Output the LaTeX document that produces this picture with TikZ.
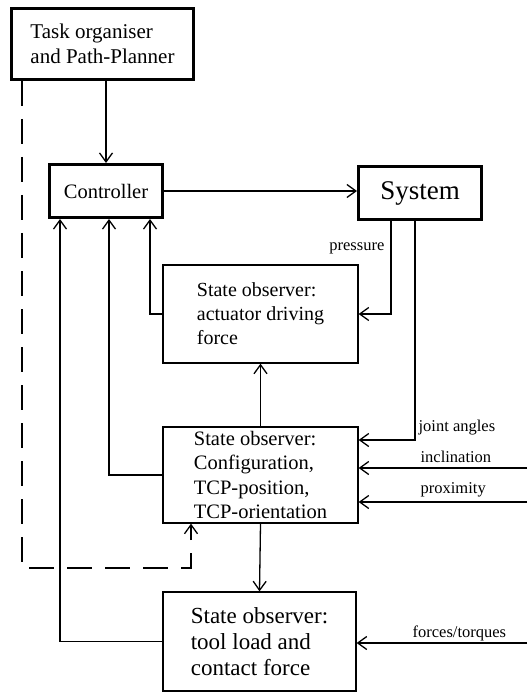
\documentclass[tikz,border=0pt]{standalone}
\usepackage{fontspec}
\setmainfont{Liberation Serif}
\usetikzlibrary{arrows.meta}
\begin{document}
\begin{tikzpicture}[x=1pt,y=-1pt,
  line width=1.3pt,
  arr/.style={-{Straight Barb[length=9pt,width=13pt]}},
  thickbox/.style={draw,line width=3pt,inner sep=0pt,align=left},
  thinbox/.style={draw,line width=1.3pt,inner sep=0pt,align=left},
  lbl/.style={inner sep=1pt,font=\fontsize{16.5}{18}\selectfont},
  dashline/.style={dash pattern=on 25pt off 13pt}]
\useasboundingbox (0,0) rectangle (527,692);
\node[thickbox,minimum width=182pt,minimum height=71pt,font=\fontsize{21}{25}\selectfont] (task) at (102.5,44) {Task organiser\\and Path-Planner};
\node[thickbox,minimum width=113pt,minimum height=53pt,font=\fontsize{20.5}{24}\selectfont] (ctrl) at (106,191) {Controller};
\node[thickbox,minimum width=123pt,minimum height=53pt,font=\fontsize{27}{30}\selectfont] (sys) at (420,193) {System};
\node[thinbox,minimum width=195pt,minimum height=98pt,font=\fontsize{20}{24}\selectfont] (act) at (260.5,314) {State observer:\\actuator driving\\force};
\node[thinbox,minimum width=195pt,minimum height=96pt,font=\fontsize{20.5}{24.3}\selectfont] (tcp) at (260.5,475) {State observer:\\Configuration,\\TCP-position,\\TCP-orientation};
\node[thinbox,minimum width=193pt,minimum height=99pt,font=\fontsize{23}{26}\selectfont] (tool) at (259.5,641.5) {State observer:\\tool load and\\contact force};
\coordinate (incl) at (527,468);
\coordinate (prox) at (527,502);
\coordinate (forc) at (527,643);
% connectors
\draw[arr] (ctrl.north |- task.south) -- (ctrl.north);
\draw[arr] (ctrl.east) -- (ctrl.east -| sys.west);
\draw[arr] ([xshift=-29pt]sys.south) |- (act.east);
\draw[arr] ([xshift=-5pt]sys.south) |- (tcp.east |- 0,440);
\draw[arr] (incl) -- (incl -| tcp.east);
\draw[arr] (prox) -- (prox -| tcp.east);
\draw[arr] (forc) -- (forc -| tool.east);
\draw[arr] (tcp.north) -- (act.south);
\draw[arr] (tcp.south) -- (tool.north);
\draw[arr] (act.west) -| ([xshift=44pt]ctrl.south);
\draw[arr] (tcp.west) -| ([xshift=3pt]ctrl.south);
\draw[arr] (tool.west) -| ([xshift=-46pt]ctrl.south);
\draw[arr,dashline] (task.south -| 22,0) -- (22,568) -| (tcp.south -| 191,0);
% labels
\node[lbl,anchor=east] (lp) at (386,248) {pressure};
\node[lbl,anchor=west] (lj) at (417,428) {joint angles};
\node[lbl,anchor=west] (li) at (419,457) {inclination};
\node[lbl,anchor=west] (lx) at (419,490) {proximity};
\node[lbl,anchor=west] (lf) at (411,633) {forces/torques};
\end{tikzpicture}
\end{document}
